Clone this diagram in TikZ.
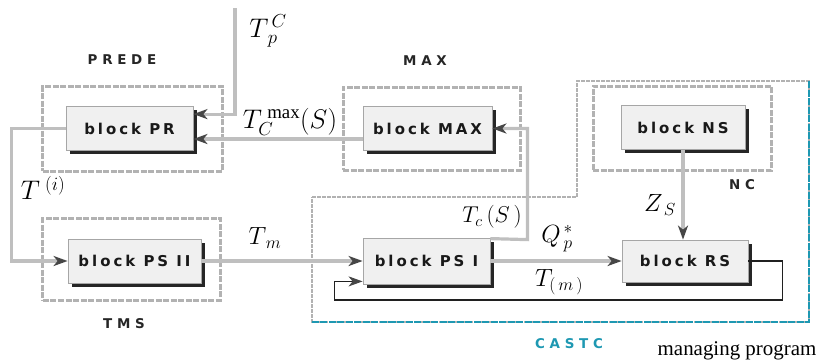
\documentclass[tikz,border=0pt]{standalone}
\usepackage{fix-cm}
\usepackage{fontspec}
\setmainfont{Liberation Serif}
\newfontfamily\blockfont{DejaVu Sans}[LetterSpace=20]
\newfontfamily\tagfont{DejaVu Sans}[LetterSpace=35]
\usetikzlibrary{arrows.meta,shadows}
\definecolor{castcteal}{RGB}{30,152,178}
\begin{document}
\begin{tikzpicture}[
x=1bp, y=-1bp,
block/.style={draw=gray!70, fill=gray!12, line width=0.8pt, inner sep=0pt,
  minimum width=127bp, minimum height=44bp, text=black!90,
  font=\blockfont\bfseries\fontsize{15}{17}\selectfont,
  drop shadow={shadow xshift=3.5bp, shadow yshift=-3.5bp, fill=black!85, opacity=1}},
holder/.style={draw=gray!60, line width=3bp, dash pattern=on 6bp off 1.5bp},
tag/.style={font=\tagfont\bfseries\fontsize{13.5}{15}\selectfont, text=black!85},
sym/.style={font=\fontsize{27}{29}\selectfont},
link/.style={draw=gray!50, line width=3.2bp},
arr/.style={link, -{Stealth[length=14bp, width=10bp, inset=4bp, color=gray!55!black]}},
back/.style={draw=gray!25!black, line width=1.6bp, -{Stealth[length=14bp, width=10bp, inset=4bp, color=gray!55!black]}}
]
\useasboundingbox (0,0) rectangle (819,362);
% Contenedores
\node[holder, minimum width=179bp, minimum height=85bp] (prede) at (132.5,128.5) {};
\node[holder, minimum width=177bp, minimum height=83bp] (maxbox) at (431.5,128.5) {};
\node[holder, minimum width=178bp, minimum height=84bp] (nc) at (682,128) {};
\node[holder, minimum width=177bp, minimum height=82bp] (tms) at (131.5,259) {};
% CASTC
\draw[draw=gray!60, line width=2.5bp, dash pattern=on 4bp off 1bp] (312,197) -- (577,197) -- (577,81) -- (809,81) -- (809,322) -- (312,322) -- cycle;
\draw[draw=castcteal, line width=2.5bp, dash pattern=on 7bp off 1.5bp] (809,81) -- (809,322) -- (312,322);
% Bloques
\node[block] (pr) at (129.5,128.5) {block PR};
\node[block, minimum width=129bp] (max) at (427.5,128.5) {block MAX};
\node[block, minimum width=124bp] (ns) at (683,127.5) {block NS};
\node[block, minimum width=133bp] (ps2) at (134.5,261) {block PS II};
\node[block, minimum height=46bp] (ps1) at (426.5,261) {block PS I};
\node[block, minimum width=126bp, minimum height=42bp] (rs) at (685,261) {block RS};
% Etiquetas
\node[tag] (tprede) at (122,60) {PREDE};
\node[tag] (tmax) at (425,61) {MAX};
\node[tag] (tnc) at (742,185) {NC};
\node[tag] (ttms) at (124,324) {TMS};
\node[tag, text=castcteal] (tcastc) at (569,344) {CASTC};
\node[font=\fontsize{21}{23}\selectfont] (prog) at (737,351) {managing program};
% Simbolos
\node[sym] (ltpc) at (268,31) {$T_{\,p}^{\,C}$};
\node[sym] (ltcmax) at (290,122) {$T_{C}^{\;\max}(S)$};
\node[sym] (lti) at (43,188) {$T^{\;(i)}$};
\node[sym, font=\fontsize{25}{27}\selectfont] (ltm) at (265,238) {$T_{\,m}$};
\node[sym, font=\fontsize{23}{25}\selectfont] (ltcs) at (492,217) {$T_c\,(S\,)$};
\node[sym, font=\fontsize{25}{27}\selectfont] (lqp) at (557,239) {$Q_{\,p}^{\,*}$};
\node[sym, font=\fontsize{25}{27}\selectfont] (ltmm) at (559,282) {$T_{(\,m\,)}$};
\node[sym, font=\fontsize{25}{27}\selectfont] (lzs) at (660,205) {$Z_{\,S}$};
% Aristas
\coordinate (tpc) at (235,8);
\draw[arr] (tpc) |- ([shift={(0,8)}]pr.north east);
\draw[arr] ([shift={(0,10.5)}]max.west) -- ([shift={(0,10.5)}]pr.east);
\draw[arr] (pr.west) -- ++(-54,0) |- (ps2.west);
\draw[arr] (ps2.east) -- (ps1.west);
\draw[arr] (ps1.east) -- (rs.west);
\draw[arr] (ns.south) -- (ns.south |- rs.north);
\draw[arr] ([shift={(0,1)}]ps1.north east) -- ++(37,1) |- (max.east);
\draw[back] (rs.east) -- ++(34,0) -- ++(0,39) -| ([shift={(-28,-3)}]ps1.south west) -- ([shift={(0,-3)}]ps1.south west);
\end{tikzpicture}
\end{document}
